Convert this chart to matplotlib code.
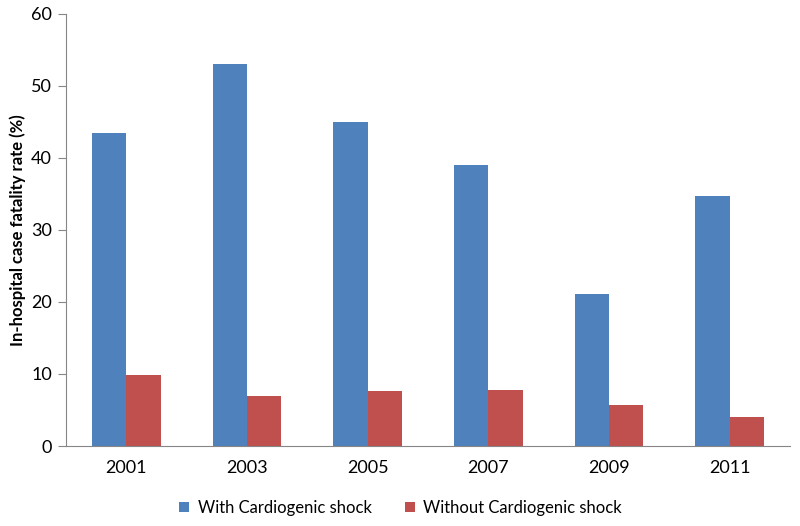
import matplotlib.pyplot as plt
import numpy as np

plt.rcParams['font.family'] = ['Lato', 'DejaVu Sans']

years = ['2001', '2003', '2005', '2007', '2009', '2011']
with_shock = [43.5, 53.0, 44.9, 39.0, 21.1, 34.7]
without_shock = [9.9, 6.9, 7.6, 7.8, 5.7, 4.1]

blue = '#4F81BD'
red = '#C0504D'
axis_gray = '#868686'

fig = plt.figure(figsize=(8, 5.26), dpi=100)
ax = fig.add_axes([0.0825, 0.152, 0.905, 0.822])

x = np.arange(len(years))
w = 1 / 3.5
ax.bar(x - w / 2, with_shock, w, color=blue, label='With Cardiogenic shock')
ax.bar(x + w / 2, without_shock, w, color=red, label='Without Cardiogenic shock')

ax.set_xlim(-0.5, len(years) - 0.5)
ax.set_ylim(0, 60)
ax.set_yticks(range(0, 61, 10))
ax.set_xticks(x)
ax.set_xticklabels(years)
ax.tick_params(axis='x', length=0, labelsize=13, pad=10)
ax.tick_params(axis='y', length=6, color=axis_gray, labelsize=13, direction='out', pad=4)

for s in ['top', 'right']:
    ax.spines[s].set_visible(False)
for s in ['left', 'bottom']:
    ax.spines[s].set_color(axis_gray)

ax.set_ylabel('In-hospital case fatality rate (%)', fontsize=12, fontweight='bold', labelpad=4)

ax.legend(loc='upper center', bbox_to_anchor=(0.462, -0.09), ncol=2, frameon=False,
          fontsize=12, handlelength=0.6, handleheight=0.6, columnspacing=2.0, handletextpad=0.5)

fig.savefig('out.png', dpi=100)
